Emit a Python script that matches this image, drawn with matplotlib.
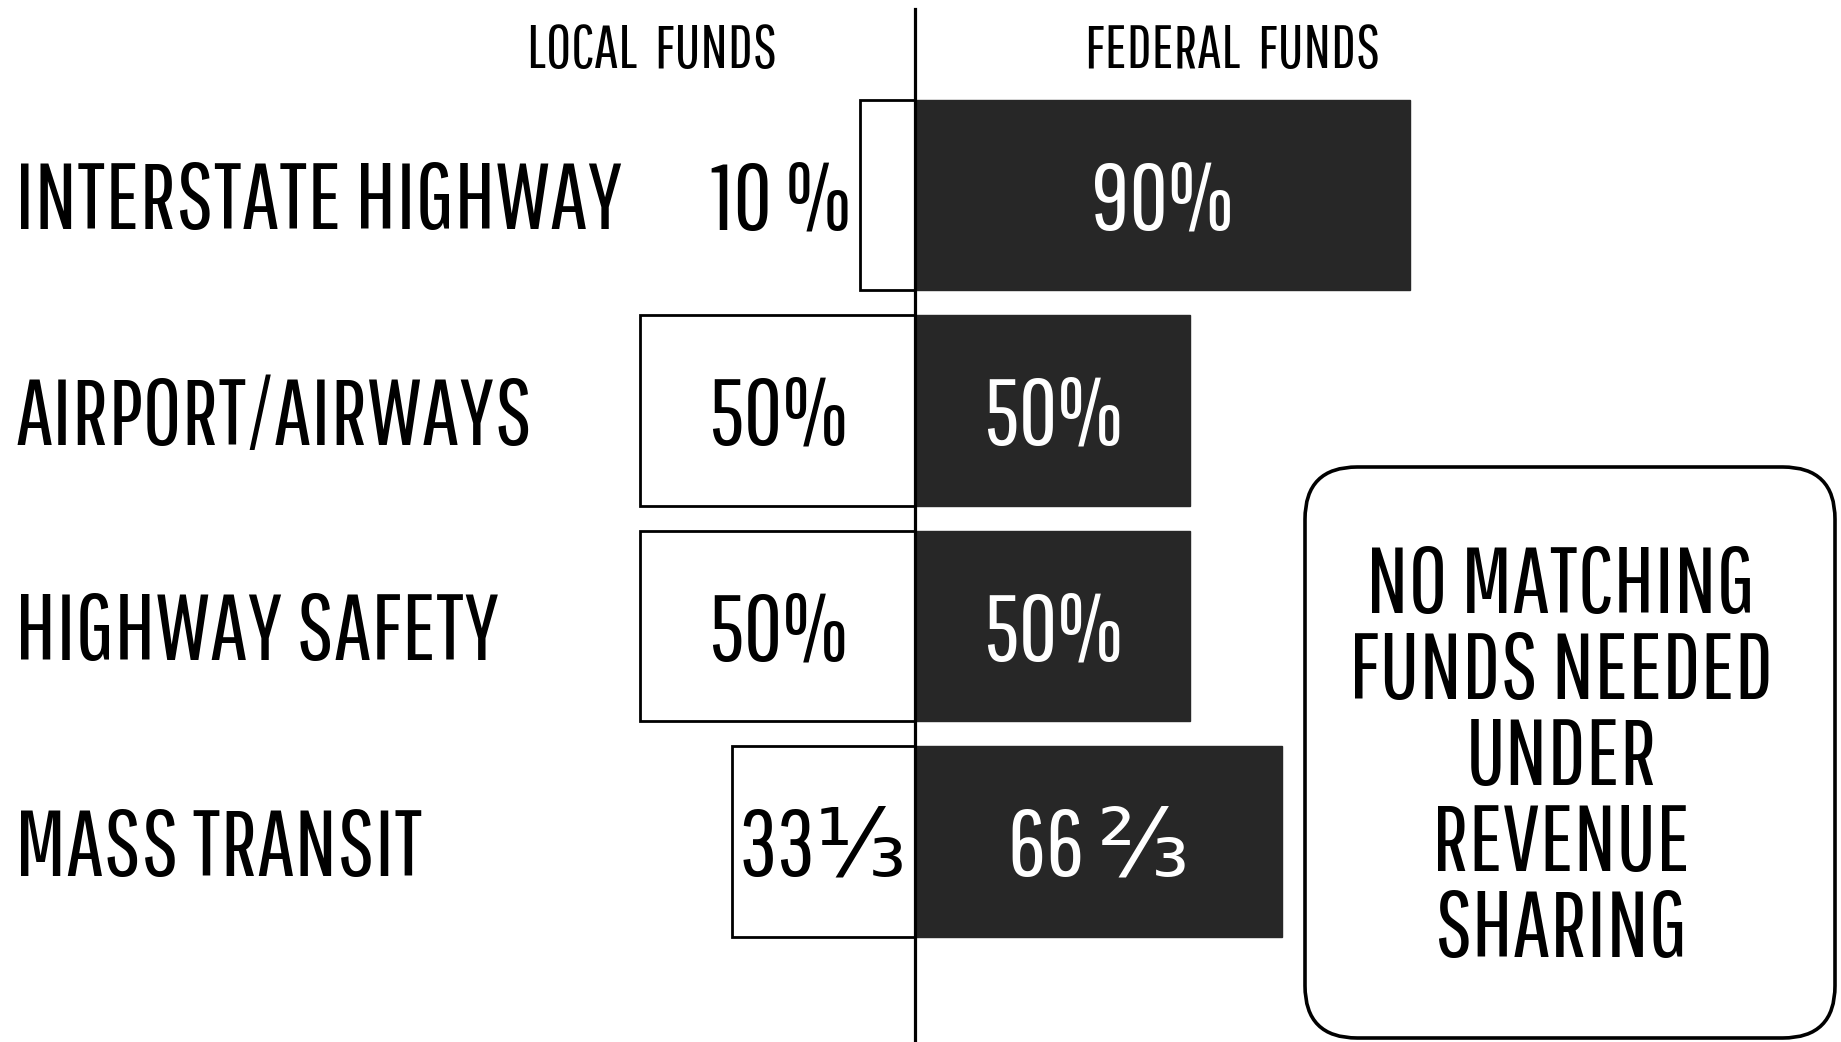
import matplotlib
matplotlib.use("Agg")
import matplotlib.pyplot as plt
from matplotlib.patches import FancyBboxPatch

# data
programs = ["INTERSTATE HIGHWAY", "AIRPORT/AIRWAYS", "HIGHWAY SAFETY", "MASS TRANSIT"]
local_share = [10, 50, 50, 33.33]
federal_share = [90, 50, 50, 66.67]
local_labels = ["10 %", "50%", "50%", "33\u2153"]
federal_labels = ["90%", "50%", "50%", "66 \u2154"]
note_lines = ["NO MATCHING", "FUNDS NEEDED", "UNDER", "REVENUE", "SHARING"]

FONT = ["Pathway Gothic One", "DejaVu Sans"]
DARK = "#272727"

# layout: x in percent (5.5 px per %), y in rows (215.5 px per row)
W, H = 1841, 1042
px_x, px_y = 5.5, 215.5
cx, cy = 915, 195


def X(px):
    return (px - cx) / px_x


def Y(px):
    return (px - cy) / px_y


fig = plt.figure(figsize=(W / 100, H / 100), dpi=100)
ax = fig.add_axes([0, 0, 1, 1])
ax.set_xlim(X(0), X(W))
ax.set_ylim(Y(H), Y(0))
ax.axis("off")

rows = list(range(len(programs)))
ax.barh(rows, [-v for v in local_share], height=0.885, color="white",
        edgecolor="black", linewidth=2)
ax.barh(rows, federal_share, height=0.885, color=DARK, edgecolor=DARK, linewidth=1)

# centre divider
ax.plot([0, 0], [Y(9), Y(H)], color="black", lw=2.3, zorder=5)

fs = 68
base = 34 / px_y   # baseline sits a bit below the row centre
for r, name in enumerate(programs):
    ax.text(X(15), r + base, name, ha="left", va="baseline", fontsize=fs, family=FONT)
    loc = local_share[r]
    if loc < 20:
        ax.text(-loc - 1.6, r + base, local_labels[r], ha="right", va="baseline",
                fontsize=fs, family=FONT)
    else:
        ax.text(-loc / 2, r + base, local_labels[r], ha="center", va="baseline",
                fontsize=fs, family=FONT)
    ax.text(federal_share[r] / 2, r + base, federal_labels[r], ha="center", va="baseline",
            fontsize=fs, color="white", family=FONT)

# column headers
ax.text(X(652), Y(68), "LOCAL  FUNDS", ha="center", va="baseline", fontsize=44, family=FONT)
ax.text(X(1233), Y(68), "FEDERAL  FUNDS", ha="center", va="baseline", fontsize=44, family=FONT)

# note box on the right
bx0, bx1 = X(1305), X(1835)
by0, by1 = Y(467), Y(1038)
box = FancyBboxPatch((bx0, by0), bx1 - bx0, by1 - by0,
                     boxstyle="round,pad=0,rounding_size=9.5",
                     mutation_aspect=px_x / px_y, facecolor="none",
                     edgecolor="black", linewidth=2.6)
ax.add_patch(box)
for i, line in enumerate(note_lines):
    ax.text(X(1561), Y(613 + 86 * i), line, ha="center", va="baseline",
            fontsize=fs, family=FONT)

fig.savefig("out.png", dpi=100)
